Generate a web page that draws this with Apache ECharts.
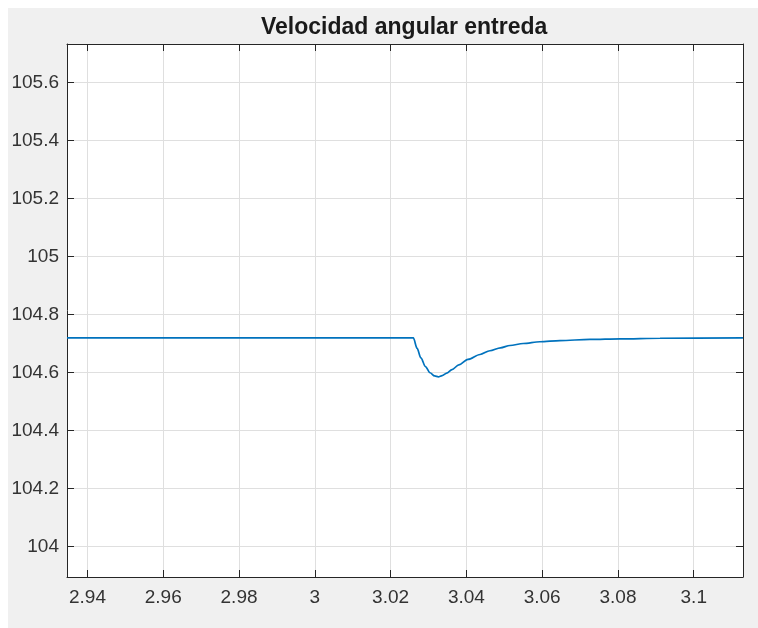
<!DOCTYPE html>
<html>
<head>
<meta charset="utf-8">
<script src="https://cdn.jsdelivr.net/npm/echarts@6/dist/echarts.min.js"></script>
<style>
  html, body { margin: 0; padding: 0; background: #ffffff; }
  #chart { position: absolute; left: 8px; top: 8px; width: 750px; height: 620px; }
</style>
</head>
<body>
<div id="chart"></div>
<script>
// Input shaft angular speed around the load step
const timeValues  = [2.9346, 3.0260, 3.0270, 3.0280, 3.0292, 3.0304, 3.0316, 3.0326, 3.0336, 3.0348, 3.0362, 3.0380, 3.0404, 3.0436, 3.0462, 3.0490, 3.0515, 3.0550, 3.0594, 3.0647, 3.0726, 3.0806, 3.0911, 3.1130];
const speedValues = [104.719, 104.719, 104.683, 104.650, 104.620, 104.599, 104.588, 104.585, 104.589, 104.598, 104.610, 104.626, 104.645, 104.662, 104.675, 104.685, 104.693, 104.700, 104.706, 104.710, 104.714, 104.716, 104.718, 104.719];

const xTicks = [2.94, 2.96, 2.98, 3.00, 3.02, 3.04, 3.06, 3.08, 3.10];
const yTicks = [104.0, 104.2, 104.4, 104.6, 104.8, 105.0, 105.2, 105.4, 105.6];

const xRange = [2.9346, 3.1130];
const yRange = [103.8945, 105.733];

const axisColor = '#262626';
const gridColor = '#dfdfdf';
const labelFont = { fontFamily: 'Liberation Sans, Arial, sans-serif', fontSize: 19, color: '#333333' };

function fmt(v) {
  return String(parseFloat(v.toFixed(4)));
}

function makeX(position, showLabels) {
  return {
    type: 'value',
    position: position,
    min: xRange[0],
    max: xRange[1],
    axisLine: { show: true, onZero: false, lineStyle: { color: axisColor, width: 1 } },
    axisTick: { show: true, inside: true, length: 7, customValues: xTicks, lineStyle: { color: axisColor, width: 1 } },
    axisLabel: Object.assign({ show: showLabels, margin: 11, customValues: xTicks, formatter: fmt }, labelFont),
    splitLine: { show: showLabels, lineStyle: { color: gridColor, width: 1 } }
  };
}

function makeY(position, showLabels) {
  return {
    type: 'value',
    position: position,
    min: yRange[0],
    max: yRange[1],
    axisLine: { show: true, onZero: false, lineStyle: { color: axisColor, width: 1 } },
    axisTick: { show: true, inside: true, length: 7, customValues: yTicks, lineStyle: { color: axisColor, width: 1 } },
    axisLabel: Object.assign({ show: showLabels, margin: 8, customValues: yTicks, formatter: fmt }, labelFont),
    splitLine: { show: showLabels, lineStyle: { color: gridColor, width: 1 } }
  };
}

const chart = echarts.init(document.getElementById('chart'));
chart.setOption({
  backgroundColor: '#f0f0f0',
  animation: false,
  graphic: [{
    type: 'text',
    left: 253,
    top: 8,
    style: {
      text: 'Velocidad angular entreda',
      font: 'bold 23px "Liberation Sans", Arial, sans-serif',
      fill: '#1a1a1a'
    }
  }],
  grid: { left: 59, top: 36, right: 15, bottom: 51, backgroundColor: '#ffffff', show: true, borderWidth: 0 },
  xAxis: [makeX('bottom', true), makeX('top', false)],
  yAxis: [makeY('left', true), makeY('right', false)],
  series: [{
    type: 'line',
    xAxisIndex: 0,
    yAxisIndex: 0,
    data: timeValues.map((t, i) => [t, speedValues[i]]),
    showSymbol: false,
    smooth: 0.3,
    smoothMonotone: 'x',
    lineStyle: { color: '#0072BD', width: 1.7 },
    clip: true
  }]
});
</script>
</body>
</html>
